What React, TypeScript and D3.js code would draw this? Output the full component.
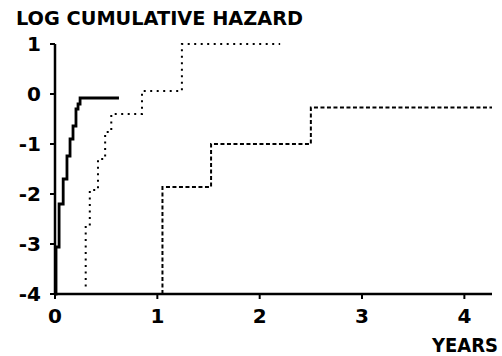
import React from 'react';
import * as d3 from 'd3';

// step points: [years, log cumulative hazard]
const solidSeries: [number, number][] = [
  [0, -4], [0.01, -3.06], [0.04, -2.2], [0.08, -1.7], [0.117, -1.24],
  [0.147, -0.9], [0.176, -0.64], [0.205, -0.3], [0.225, -0.2], [0.245, -0.08], [0.625, -0.08],
];
const dottedSeries: [number, number][] = [
  [0.3, -3.85], [0.3, -2.64], [0.34, -1.92], [0.42, -1.3], [0.49, -0.76],
  [0.55, -0.4], [0.85, 0.06], [1.24, 1.0], [2.2, 1.0],
];
const dashedSeries: [number, number][] = [
  [1.05, -4], [1.05, -1.86], [1.525, -1.0], [2.5, -0.27], [4.27, -0.27],
];
const xTicks = [0, 1, 2, 3, 4];
const yTicks = [1, 0, -1, -2, -3, -4];

const W = 502;
const H = 356;
const FONT = 'DejaVu Sans, sans-serif';

export default function App() {
  const x = d3.scaleLinear().domain([0, 4.27]).range([55, 492]);
  const y = d3.scaleLinear().domain([-4, 1]).range([294, 44]);

  const line = d3.line<[number, number]>()
    .x(d => x(d[0]))
    .y(d => y(d[1]))
    .curve(d3.curveStepAfter);

  return (
    <svg width={W} height={H} style={{ position: 'absolute', left: 0, top: 0, background: '#fff' }}>
      <text x={16} y={25} fontFamily={FONT} fontWeight="bold" fontSize={19}
        textLength={287} lengthAdjust="spacingAndGlyphs">LOG CUMULATIVE HAZARD</text>

      {/* axes */}
      <line x1={x(0)} x2={x(0)} y1={y(1)} y2={y(-4) + 1} stroke="#000" strokeWidth={2.5} />
      <line x1={x(0) - 1} x2={x(4.27)} y1={y(-4)} y2={y(-4)} stroke="#000" strokeWidth={2.5} />

      {yTicks.map(t => (
        <g key={'y' + t}>
          <line x1={x(0) - 5} x2={x(0)} y1={y(t)} y2={y(t)} stroke="#000" strokeWidth={2} />
          <text x={41} y={y(t) + 7} textAnchor="end" fontFamily={FONT} fontWeight="bold" fontSize={20}>
            {t < 0 ? '-' + Math.abs(t) : t}
          </text>
        </g>
      ))}
      {xTicks.map(t => (
        <g key={'x' + t}>
          <line x1={x(t)} x2={x(t)} y1={y(-4)} y2={y(-4) + 5} stroke="#000" strokeWidth={2} />
          <text x={x(t)} y={323} textAnchor="middle" fontFamily={FONT} fontWeight="bold" fontSize={20}>{t}</text>
        </g>
      ))}

      <path d={line(dottedSeries) || ''} fill="none" stroke="#000" strokeWidth={2} strokeDasharray="2,4.5" />
      <path d={line(dashedSeries) || ''} fill="none" stroke="#000" strokeWidth={2} strokeDasharray="4,2.5" />
      <path d={line(solidSeries) || ''} fill="none" stroke="#000" strokeWidth={2.8} />

      <text x={432} y={352} fontFamily={FONT} fontWeight="bold" fontSize={19}
        textLength={66} lengthAdjust="spacingAndGlyphs">YEARS</text>
    </svg>
  );
}
